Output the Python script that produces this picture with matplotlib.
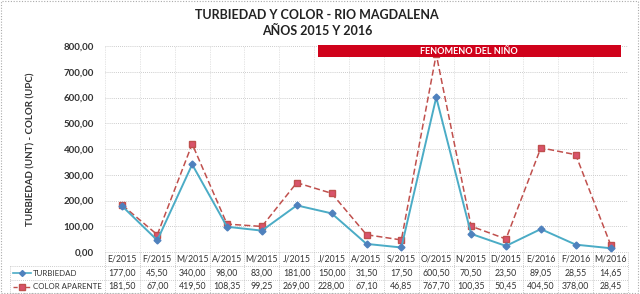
import matplotlib
matplotlib.use("Agg")
import matplotlib.pyplot as plt
import numpy as np
from matplotlib.patches import Rectangle
from matplotlib.lines import Line2D

plt.rcParams['font.family'] = ['Lato', 'DejaVu Sans']

categories = ["E/2015", "F/2015", "M/2015", "A/2015", "M/2015", "J/2015", "J/2015",
              "A/2015", "S/2015", "O/2015", "N/2015", "D/2015", "E/2016", "F/2016", "M/2016"]
turbiedad = [177.00, 45.50, 340.00, 98.00, 83.00, 181.00, 150.00, 31.50, 17.50,
             600.50, 70.50, 23.50, 89.05, 28.55, 14.65]
color_ap = [181.50, 67.00, 419.50, 108.35, 99.25, 269.00, 228.00, 67.10, 46.85,
            767.70, 100.35, 50.45, 404.50, 378.00, 28.45]
yticks = [0, 100, 200, 300, 400, 500, 600, 700, 800]

def fmt(v):
    return f"{v:.2f}".replace(".", ",")

W, H = 640, 294
fig = plt.figure(figsize=(6.4, 2.94), dpi=100)
fig.patch.set_facecolor("white")

L, R, T, B = 105, 628, 46, 252
ax = fig.add_axes([L / W, 1 - B / H, (R - L) / W, (B - T) / H])
n = len(categories)
x = np.arange(n) + 0.5
ax.set_xlim(0, n)
ax.set_ylim(0, 800)
ax.set_yticks(yticks)
ax.set_yticklabels([fmt(v) for v in yticks], fontsize=7, fontweight='bold', color='#333333')
ax.set_xticks([])
ax.tick_params(axis='y', length=0, pad=8)
for s in ax.spines.values():
    s.set_visible(False)
for yv in yticks[1:]:
    ax.axhline(yv, color='#bbbbbb', lw=0.6, ls=(0, (1, 1.5)), zorder=0)
for i in range(n + 1):
    ax.axvline(i, color='#cccccc', lw=0.5, ls=(0, (1, 1.5)), zorder=0)

ax.plot(x, color_ap, color='#c0504d', lw=1.1, ls=(0, (4, 2)), marker='s', ms=5,
        mfc='#d9536b', mec='#c0504d', zorder=3)
ax.plot(x, turbiedad, color='#4bacc6', lw=1.4, marker='D', ms=3.5,
        mfc='#4f81bd', mec='#4f81bd', zorder=4)

ax.add_patch(Rectangle((6.1, 757), 14.8 - 6.1, 47, facecolor='#d0021b', edgecolor='none',
                       clip_on=False, zorder=5))
ax.text((6.1 + 14.8) / 2, 780, "FENOMENO DEL NIÑO", color='white', fontsize=6.5,
        fontweight='bold', ha='center', va='center', zorder=6)

ax.set_ylabel("TURBIEDAD (UNT) - COLOR (UPC)", fontsize=7, fontweight='bold', color='#333333',
              labelpad=10)
ax.yaxis.set_label_coords((35 - L) / (R - L), 0.5)

fig.text(317 / W, 1 - 15 / H, "TURBIEDAD Y COLOR - RIO MAGDALENA", ha='center', va='center',
         fontsize=9, fontweight='bold', color='#222222')
fig.text(317 / W, 1 - 31 / H, "AÑOS 2015 Y 2016", ha='center', va='center',
         fontsize=9, fontweight='bold', color='#222222')

# data table
cw = (R - L) / n
rows_y = [252, 266, 280, 293]
gc = '#bbbbbb'
def fx(px):
    return px / W
def fy(py):
    return 1 - py / H
for i, yy in enumerate(rows_y):
    x0 = L if i == 0 else 10
    fig.add_artist(Line2D([fx(x0), fx(R)], [fy(yy), fy(yy)], color=gc, lw=0.6, ls=(0, (1, 1.5))))
for i in range(n + 1):
    xx = L + i * cw
    fig.add_artist(Line2D([fx(xx), fx(xx)], [fy(252), fy(293)], color=gc, lw=0.6, ls=(0, (1, 1.5))))
fig.add_artist(Line2D([fx(10), fx(10)], [fy(266), fy(293)], color=gc, lw=0.6, ls=(0, (1, 1.5))))

tfs = 6.3
for i, c in enumerate(categories):
    cx = fx(L + (i + 0.5) * cw)
    fig.text(cx, fy(259), c, ha='center', va='center', fontsize=tfs, color='#333333')
    fig.text(cx, fy(273), fmt(turbiedad[i]), ha='center', va='center', fontsize=tfs, color='#333333')
    fig.text(cx, fy(286.5), fmt(color_ap[i]), ha='center', va='center', fontsize=tfs, color='#333333')

fig.add_artist(Line2D([fx(13), fx(31)], [fy(273), fy(273)], color='#4bacc6', lw=1.2))
fig.add_artist(Line2D([fx(22)], [fy(273)], marker='D', ms=3, color='#4f81bd', lw=0))
fig.add_artist(Line2D([fx(13), fx(31)], [fy(286.5), fy(286.5)], color='#c0504d', lw=1, ls=(0, (3, 1.5))))
fig.add_artist(Line2D([fx(22)], [fy(286.5)], marker='s', ms=4.5, color='#d9536b', mec='#c0504d', lw=0))
fig.text(fx(33), fy(273), "TURBIEDAD", ha='left', va='center', fontsize=5.7, color='#333333')
fig.text(fx(33), fy(286.5), "COLOR APARENTE", ha='left', va='center', fontsize=5.7, color='#333333')

# outer border
fig.add_artist(Rectangle((0.002, 0.003), 0.995, 0.994, transform=fig.transFigure, fill=False,
                         edgecolor='#aaaaaa', lw=0.8, ls=(0, (1, 1.5))))

fig.savefig("out.png", dpi=100, facecolor='white')
